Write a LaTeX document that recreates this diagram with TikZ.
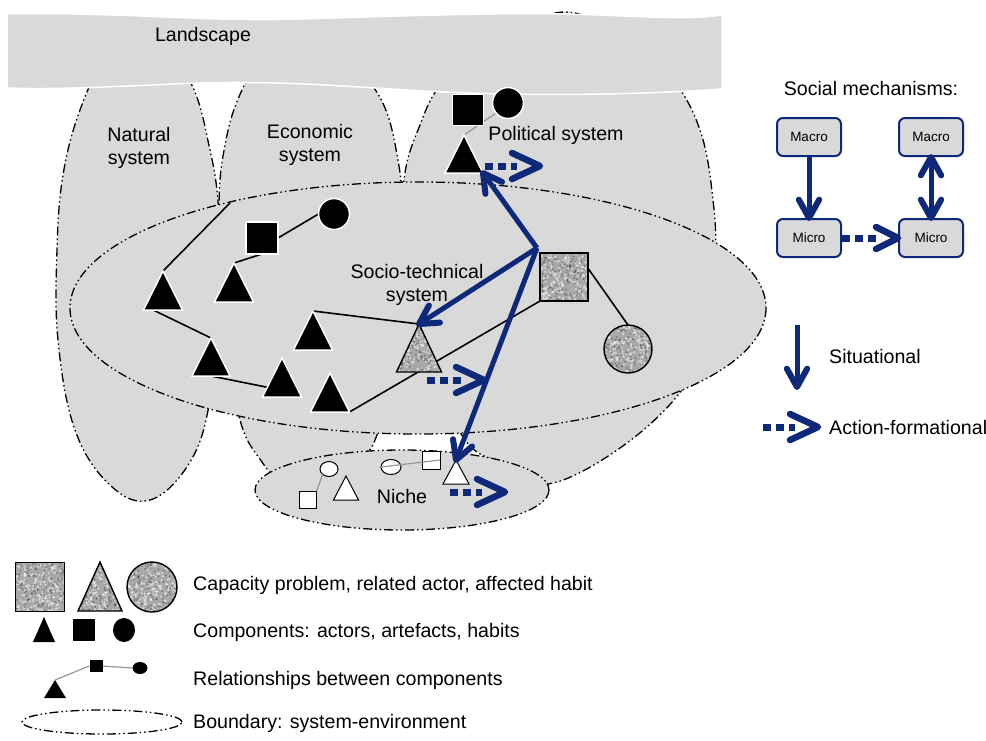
\documentclass[tikz,border=0pt]{standalone}
\usepackage{fontspec}
\setmainfont{Liberation Sans}
\usetikzlibrary{shapes.geometric,calc}

\pgfdeclarelayer{blobs}
\pgfdeclarelayer{links}
\pgfsetlayers{blobs,links,main}

\definecolor{panel}{RGB}{217,217,217}
\definecolor{navy}{RGB}{14,40,122}
\definecolor{granitebase}{RGB}{168,168,168}
\definecolor{linkgray}{RGB}{150,150,150}

% speckled texture for the "problem" shapes
\newcommand\granitedots{%
  \foreach \k in {1,...,230}{%
    \fill[white,opacity=.5] ($(path picture bounding box.north west)+({rnd*54},{rnd*54})$) circle (1.3pt);}%
  \foreach \k in {1,...,170}{%
    \fill[black,opacity=.3] ($(path picture bounding box.north west)+({rnd*54},{rnd*54})$) circle (1pt);}%
}

% situational link: solid shaft with an open chevron head
\newcommand\sitlink[2]{%
  \draw[sitline] (#1) -- (#2);
  \draw[sithead] ($(#2)!21pt!29:(#1)$) -- (#2) -- ($(#2)!21pt!-29:(#1)$);}
% two-way situational link
\newcommand\duallink[2]{%
  \draw[sitline] (#1) -- (#2);
  \draw[sithead] ($(#2)!21pt!29:(#1)$) -- (#2) -- ($(#2)!21pt!-29:(#1)$);
  \draw[sithead] ($(#1)!21pt!29:(#2)$) -- (#1) -- ($(#1)!21pt!-29:(#2)$);}
% action-formational link (horizontal): square dots and a chevron
% #1 start, #2 tip, #3 head depth, #4 head half-spread
\newcommand\actlink[4]{%
  \draw[actline] (#1) -- ($(#2)+({-#3+5},0)$);
  \draw[acthead] ($(#2)+(-#3,-#4)$) -- (#2) -- ($(#2)+(-#3,#4)$);}

\tikzset{
  boundary/.style={draw=black, line width=1.3pt,
    dash pattern=on 9pt off 3pt on 1.5pt off 3pt on 1.5pt off 3pt},
  area/.style={boundary, fill=panel},
  lbl/.style={font=\fontsize{19.6}{23}\selectfont, align=center, inner sep=0pt},
  tri/.style 2 args={isosceles triangle, isosceles triangle stretches,
    shape border rotate=90, minimum width=#1, minimum height=#2,
    inner sep=0pt, outer sep=0pt, anchor=apex},
  solid black/.style={fill=black, draw=white, line width=1.5pt, inner sep=0pt, outer sep=0pt},
  hollow/.style={fill=white, draw=black, line width=1pt, inner sep=0pt, outer sep=0pt},
  granite/.style={fill=granitebase, draw=black, line width=1.4pt, inner sep=0pt,
    outer sep=0pt, path picture={\granitedots}},
  link/.style={draw=black, line width=1.6pt},
  relink/.style={draw=linkgray, line width=1.2pt},
  sitline/.style={draw=navy, line width=5pt},
  sithead/.style={draw=navy, line width=6pt, line cap=round, line join=round},
  actline/.style={draw=navy, line width=7pt, dash pattern=on 8pt off 5pt},
  acthead/.style={draw=navy, line width=6.5pt, line cap=round, line join=round},
  mbox/.style={rectangle, rounded corners=6pt, draw=navy, line width=2pt, fill=panel,
    minimum width=64pt, minimum height=38pt, inner sep=0pt,
    font=\fontsize{13.5}{16}\selectfont},
}

\begin{document}
\begin{tikzpicture}[x=1pt,y=-1pt]
\pgfmathsetseed{42}
\useasboundingbox (0,0) rectangle (986,740);

% ---------------- systems and their boundaries
\begin{pgfonlayer}{blobs}
  % natural system
  \draw[area] plot[smooth cycle, tension=0.65] coordinates {(140,35) (188,78) (210,150) (219,215) (220,300) (210,400) (190,462) (150,500) (110,485) (75,430) (58,340) (57,250) (63,175) (80,110) (105,60)};
  % economic system
  \draw[area] plot[smooth cycle, tension=0.65] coordinates {(305,35) (372,85) (398,160) (402,250) (395,360) (378,432) (360,460) (320,490) (285,485) (262,462) (240,420) (226,330) (219,210) (226,140) (242,90) (265,55)};
  % political system
  \draw[area] plot[smooth cycle, tension=0.65] coordinates {(565,12) (630,40) (670,75) (700,130) (713,200) (715,260) (705,335) (682,390) (620,448) (548,484) (505,465) (463,437) (430,350) (405,240) (404,180) (418,130) (445,80) (505,40)};
  % socio-technical system
  \draw[area] (418,308) ellipse [x radius=348, y radius=126];
  % niche
  \draw[area] (402,490) ellipse [x radius=147, y radius=40];
  % landscape band
  \fill[panel, draw=white, line width=1.5pt] (7,14) .. controls (130,12) and (200,22) .. (300,19) .. controls (400,16) and (480,13) .. (560,14) .. controls (630,15) and (680,21) .. (722,15) -- (722,89) .. controls (650,94) and (560,96) .. (470,93) .. controls (380,90) and (300,80) .. (200,83) .. controls (120,86) and (60,90) .. (7,88) -- cycle;
\end{pgfonlayer}

% ---------------- labels of the systems
\node[lbl] (landlbl) at (203,36) {Landscape};
\node[lbl] (natlbl) at (139,148) {Natural\\system};
\node[lbl] (ecolbl) at (310,145) {Economic\\system};
\node[lbl] (pollbl) at (556,135) {Political system};
\node[lbl] (stlbl) at (417,285) {Socio-technical\\system};
\node[lbl] (nichelbl) at (402,496) {Niche};

% ---------------- political system components
\node[solid black, rectangle, minimum size=31pt] (psq) at (468,110) {};
\node[solid black, circle, minimum size=31pt] (pcirc) at (508,103) {};
\node[solid black, tri={38}{38}] (ptri) at (464,135) {};

% ---------------- socio-technical components
\node[solid black, tri={39}{39}] (t1) at (163,271) {};
\node[solid black, tri={39}{39}] (t2) at (234,263) {};
\node[solid black, tri={38}{38}] (t3) at (211,338) {};
\node[solid black, tri={39}{39}] (t4) at (313,311) {};
\node[solid black, tri={39}{39}] (t5) at (282,358) {};
\node[solid black, tri={39}{39}] (t6) at (330,373) {};
\node[solid black, rectangle, minimum size=32pt] (bsq) at (262,238) {};
\node[solid black, circle, minimum size=31pt] (bcirc) at (334,214) {};
\node[granite, tri={45}{48}] (gtri) at (419,324) {};
\node[granite, rectangle, minimum size=48pt] (gsq) at (564,277) {};
\node[granite, circle, minimum size=48pt] (gcirc) at (628,349) {};
\coordinate (stlink) at (230,203);

% ---------------- niche components
\node[hollow, ellipse, minimum width=18pt, minimum height=15pt] (ncirc1) at (329,469) {};
\node[hollow, rectangle, minimum size=17pt] (nsq1) at (308,500) {};
\node[hollow, tri={25}{24}] (ntri1) at (346,476) {};
\node[hollow, ellipse, minimum width=20pt, minimum height=15pt] (ncirc2) at (391,467) {};
\node[hollow, rectangle, minimum size=18pt] (nsq2) at (431,460) {};
\node[hollow, tri={26}{24}] (ntri2) at (456,460) {};
\draw[relink] (ncirc1.south west) -- (nsq1.north east);
\draw[relink] (ncirc2.west) -- (nsq2.east);

% ---------------- relationships
\begin{pgfonlayer}{links}
  \draw[link] (t1.apex) -- (stlink);
  \draw[link] ($(t1.left corner)!0.25!(t1.right corner)$) -- (t3.apex);
  \draw[link] (t2.apex) -- (bsq.south);
  \draw[link] (bsq.east) -- (bcirc.west);
  \draw[link] ($(t3.left corner)!0.5!(t3.right corner)$) -- ($(t5.apex)!0.75!(t5.left corner)$);
  \draw[link] (t4.apex) -- (gtri.apex);
  \draw[link] (t6.right corner) -- (gsq.south west);
  \draw[link] (gsq.20) -- (gcirc.north);
  \draw[relink] (ptri.apex) -- (pcirc.220);
\end{pgfonlayer}

% ---------------- social mechanisms in the systems
\coordinate (hub) at ($(gsq.north west)+(-3,-5)$);
\sitlink{hub}{ptri.right corner}
\sitlink{hub}{gtri.apex}
\sitlink{hub}{ntri2.apex}

\coordinate (pa0) at (485,166); \coordinate (pa1) at (540,166);
\actlink{pa0}{pa1}{28}{13}
\coordinate (sa0) at (427,380); \coordinate (sa1) at (484,380);
\actlink{sa0}{sa1}{28}{13}
\coordinate (na0) at (450,492); \coordinate (na1) at (505,492);
\actlink{na0}{na1}{28}{13}

% ---------------- key: social mechanisms
\node[lbl] (mechlbl) at (871,88) {Social mechanisms:};
\node[mbox] (mac1) at (809,137) {Macro};
\node[mbox] (mac2) at (931,137) {Macro};
\node[mbox] (mic1) at (809,238) {Micro};
\node[mbox] (mic2) at (931,238) {Micro};
\sitlink{mac1.south}{mic1.north}
\duallink{mac2.south}{mic2.north}
\actlink{mic1.east}{mic2.west}{22}{11}

\coordinate (s0) at (797,325); \coordinate (s1) at (797,387);
\sitlink{s0}{s1}
\node[lbl, anchor=west] (sitlbl) at (829,356) {Situational};
\coordinate (a0) at (763,427); \coordinate (a1) at (818,427);
\actlink{a0}{a1}{28}{13}
\node[lbl, anchor=west] (actlbl) at (829,427) {Action-formational};

% ---------------- key: symbols
\node[granite, rectangle, minimum size=49pt] (lgsq) at (40,587) {};
\node[granite, tri={44}{49}] (lgtri) at (100,562) {};
\node[granite, circle, minimum size=50pt] (lgcirc) at (152,587) {};
\node[fill=black, tri={22}{25}] (lbtri) at (44,617) {};
\node[fill=black, rectangle, minimum size=22pt, inner sep=0pt] (lbsq) at (84,630) {};
\node[fill=black, ellipse, minimum width=22pt, minimum height=24pt, inner sep=0pt] (lbcirc) at (124,630) {};
\node[fill=black, tri={22}{18}] (lrtri) at (55,680) {};
\node[fill=black, rectangle, minimum width=13pt, minimum height=12pt, inner sep=0pt] (lrsq) at (96,666) {};
\node[fill=black, ellipse, minimum width=15pt, minimum height=12pt, inner sep=0pt] (lrell) at (140,668) {};
\draw[relink] (lrtri.apex) -- (lrsq.west);
\draw[relink] (lrsq.east) -- (lrell.west);
\node[boundary, ellipse, minimum width=160pt, minimum height=24pt, inner sep=0pt] (lbound) at (102,722) {};

\node[lbl, anchor=west] (capkey) at (193,585) {Capacity problem, related actor, affected habit};
\node[lbl, anchor=west] (compkey) at (193,632) {Components: actors, artefacts, habits};
\node[lbl, anchor=west] (relkey) at (193,680) {Relationships between components};
\node[lbl, anchor=west] (boundkey) at (193,723) {Boundary: system-environment};
\end{tikzpicture}
\end{document}
